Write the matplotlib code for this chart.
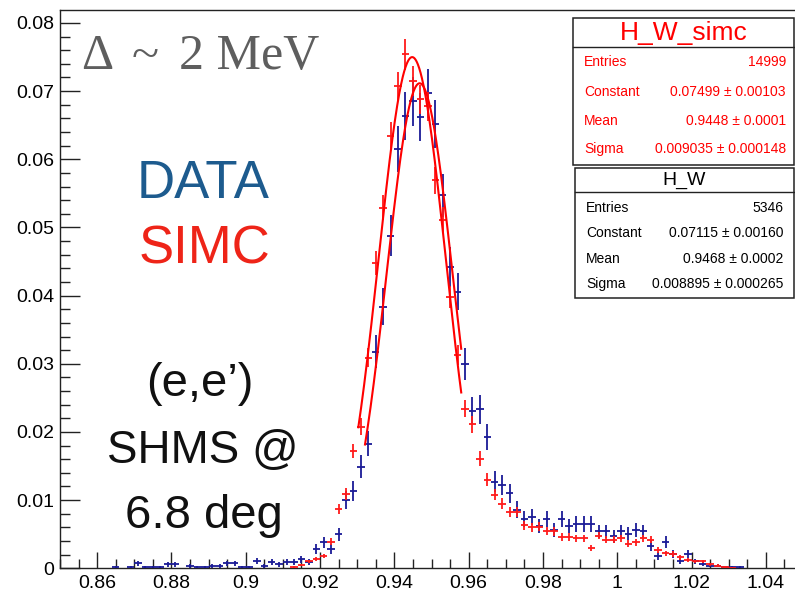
import numpy as np
import matplotlib
matplotlib.use("Agg")
import matplotlib.pyplot as plt
from matplotlib.patches import Rectangle
from matplotlib.ticker import MultipleLocator, FuncFormatter

# W histograms (bin width 0.002 GeV, centres from 0.851)
bin_lo, bin_hi, bin_w = 0.85, 1.05, 0.002

data_w = [0.865, 0.869, 0.871, 0.873, 0.875, 0.877, 0.879, 0.881, 0.885, 0.887,
          0.889, 0.891, 0.893, 0.895, 0.897, 0.899, 0.901, 0.903, 0.905, 0.907,
          0.909, 0.911, 0.913, 0.915, 0.917, 0.919, 0.921, 0.923, 0.925, 0.927,
          0.929, 0.931, 0.933, 0.935, 0.937, 0.939, 0.941, 0.943, 0.945, 0.947,
          0.949, 0.951, 0.953, 0.955, 0.957, 0.959, 0.961, 0.963, 0.965, 0.967,
          0.969, 0.971, 0.973, 0.975, 0.977, 0.979, 0.981, 0.983, 0.985, 0.987,
          0.989, 0.991, 0.993, 0.995, 0.997, 0.999, 1.001, 1.003, 1.005, 1.007,
          1.009, 1.011, 1.013, 1.015, 1.017, 1.019, 1.021, 1.023, 1.025, 1.027,
          1.029, 1.031, 1.033]
data_y = [0.00019, 0.00019, 0.00075, 0.00019, 0.00019, 0.00019, 0.00056, 0.00056, 0.00037, 0.00019,
          0.00019, 0.00037, 0.00037, 0.00075, 0.00075, 0.00019, 0.00019, 0.00112, 0.00037, 0.00094,
          0.00056, 0.00094, 0.00094, 0.00131, 0.00094, 0.0028, 0.0038, 0.0028, 0.0050, 0.0100,
          0.0114, 0.0149, 0.0183, 0.0318, 0.0384, 0.0488, 0.0615, 0.0663, 0.0685, 0.0662,
          0.0697, 0.0652, 0.0547, 0.0442, 0.0406, 0.0300, 0.0231, 0.0233, 0.0193, 0.0127,
          0.0122, 0.0110, 0.0086, 0.0072, 0.0075, 0.0062, 0.0073, 0.0056, 0.0072, 0.0062,
          0.0065, 0.0065, 0.0065, 0.0054, 0.0054, 0.0047, 0.0054, 0.0051, 0.0056, 0.0054,
          0.0033, 0.0018, 0.0039, 0.0021, 0.0011, 0.0021, 0.0010, 0.0007, 0.0004, 0.0004,
          0.0002, 0.0002, 0.0002]

simc_w = [0.913, 0.915, 0.917, 0.919, 0.921, 0.923, 0.925, 0.927, 0.929, 0.931,
          0.933, 0.935, 0.937, 0.939, 0.941, 0.943, 0.945, 0.947, 0.949, 0.951,
          0.953, 0.955, 0.957, 0.959, 0.961, 0.963, 0.965, 0.967, 0.969, 0.971,
          0.973, 0.975, 0.977, 0.979, 0.981, 0.983, 0.985, 0.987, 0.989, 0.991,
          0.993, 0.995, 0.997, 0.999, 1.001, 1.003, 1.005, 1.007, 1.009, 1.011,
          1.013, 1.015, 1.017, 1.019, 1.021, 1.023, 1.025, 1.027, 1.029, 1.031]
simc_y = [0.0002, 0.0005, 0.0010, 0.00135, 0.0018, 0.0039, 0.0087, 0.0109, 0.0172, 0.0208,
          0.0309, 0.0448, 0.0529, 0.0634, 0.0707, 0.0754, 0.0715, 0.0688, 0.0678, 0.0569,
          0.0511, 0.0398, 0.0313, 0.0234, 0.0211, 0.0161, 0.0130, 0.0108, 0.0095, 0.0083,
          0.0082, 0.0063, 0.0060, 0.0061, 0.0055, 0.0054, 0.0046, 0.0046, 0.0044, 0.0044,
          0.0030, 0.0048, 0.0042, 0.0042, 0.0044, 0.0036, 0.0038, 0.0044, 0.0042, 0.0027,
          0.0022, 0.0021, 0.0016, 0.0012, 0.0010, 0.0010, 0.0006, 0.0004, 0.0002, 0.0001]

# normalisation (entries) used for the statistical error bars
data_entries = 5346
simc_entries = 14999

# Gaussian fit results
simc_fit = dict(const=0.07499, mean=0.9448, sigma=0.009035, lo=0.9303, hi=0.958)
data_fit = dict(const=0.07115, mean=0.9468, sigma=0.008895, lo=0.9321, hi=0.958)

stats_simc = [("Entries", "14999"),
              ("Constant", "0.07499 \u00b1 0.00103"),
              ("Mean", "0.9448 \u00b1 0.0001"),
              ("Sigma", "0.009035 \u00b1 0.000148")]
stats_data = [("Entries", "5346"),
              ("Constant", "0.07115 \u00b1 0.00160"),
              ("Mean", "0.9468 \u00b1 0.0002"),
              ("Sigma", "0.008895 \u00b1 0.000265")]

W, H = 795, 597
SANS = ["Liberation Sans", "DejaVu Sans"]
plt.rcParams["font.family"] = SANS

fig = plt.figure(figsize=(W / 100, H / 100), dpi=100)
ax_l, ax_r, ax_t, ax_b = 60, 803, 10, 568.3
ax = fig.add_axes([ax_l / W, (H - ax_b) / H, (ax_r - ax_l) / W, (ax_b - ax_t) / H])
ax.set_xlim(bin_lo, bin_hi)
ax.set_ylim(0, 0.0819)

BLUE = "#1a1a96"
RED = "#ff1a1a"


def draw_hist(w, y, n, color):
    w = np.asarray(w)
    y = np.asarray(y)
    err = np.sqrt(y / n)
    ax.errorbar(w, y, yerr=err, xerr=bin_w / 2, fmt="none", ecolor=color,
                elinewidth=1.3, capsize=0, zorder=3)


def draw_fit(f):
    xs = np.linspace(f["lo"], f["hi"], 300)
    ys = f["const"] * np.exp(-0.5 * ((xs - f["mean"]) / f["sigma"]) ** 2)
    ax.plot(xs, ys, color="#ff0000", lw=1.5, zorder=4)


draw_hist(data_w, data_y, data_entries, BLUE)
draw_hist(simc_w, simc_y, simc_entries, RED)
draw_fit(simc_fit)
draw_fit(data_fit)

# axes styling
for s in ("left", "bottom", "top"):
    ax.spines[s].set_color("#222222")
    ax.spines[s].set_linewidth(1.0)
ax.spines["right"].set_visible(False)
ax.xaxis.set_major_locator(MultipleLocator(0.02))
ax.xaxis.set_minor_locator(MultipleLocator(0.005))
ax.yaxis.set_major_locator(MultipleLocator(0.01))
ax.yaxis.set_minor_locator(MultipleLocator(0.002))


def fmt(v, pos):
    s = f"{v:.2f}".rstrip("0").rstrip(".")
    return s


ax.xaxis.set_major_formatter(FuncFormatter(fmt))
ax.yaxis.set_major_formatter(FuncFormatter(fmt))
ax.tick_params(axis="x", which="major", direction="in", length=11.5, width=1.0,
               labelsize=14, pad=4.5, color="#222222")
ax.tick_params(axis="x", which="minor", direction="in", length=6.5, width=1.0,
               color="#222222")
ax.tick_params(axis="y", which="major", direction="in", length=14.5, width=1.0,
               labelsize=14, pad=4, color="#222222")
ax.tick_params(axis="y", which="minor", direction="in", length=7.5, width=1.0,
               color="#222222")


def fx(x):
    return x / W


def fy(y):
    return 1 - y / H


# annotations on the plot area
SERIF = ["Liberation Serif", "DejaVu Serif"]
fig.text(fx(81), fy(57), "\u0394", fontsize=36, color="#5e5e5e",
         family=SERIF, va="center", ha="left")
fig.text(fx(132), fy(57), "~", fontsize=36, color="#5e5e5e",
         family=SERIF, va="center", ha="left")
fig.text(fx(179), fy(57), "2 MeV", fontsize=36, color="#5e5e5e",
         family=SERIF, va="center", ha="left")
fig.text(fx(203), fy(184), "DATA", fontsize=38, color="#1d5b8e",
         ha="center", va="center")
fig.text(fx(204), fy(250), "SIMC", fontsize=38, color="#ee2418",
         ha="center", va="center")
fig.text(fx(200), fy(384), "(e,e\u2019)", fontsize=34, color="#111111",
         ha="center", va="center")
fig.text(fx(203), fy(451), "SHMS @", fontsize=33, color="#111111",
         ha="center", va="center")
fig.text(fx(204), fy(516), "6.8 deg", fontsize=34, color="#111111",
         ha="center", va="center")


# stats boxes
def stats_box(top, sep, bottom, left, right, title, rows, color, title_size,
              row_ys, text_l, text_r):
    fig.add_artist(Rectangle((fx(left), fy(bottom)), fx(right) - fx(left),
                             fy(top) - fy(bottom), transform=fig.transFigure,
                             facecolor="white", edgecolor="#222222", lw=1.1,
                             zorder=10))
    fig.add_artist(plt.Line2D([fx(left), fx(right)], [fy(sep), fy(sep)],
                              transform=fig.transFigure, color="#222222",
                              lw=1.0, zorder=11))
    fig.text(fx((left + right) / 2), fy((top + sep) / 2), title, color=color,
             fontsize=title_size, ha="center", va="center", zorder=12)
    for (k, v), yy in zip(rows, row_ys):
        fig.text(fx(text_l), fy(yy), k, color=color, fontsize=10,
                 ha="left", va="center", zorder=12)
        fig.text(fx(text_r), fy(yy), v, color=color, fontsize=10,
                 ha="right", va="center", zorder=12)


stats_box(18.3, 47.3, 165, 573, 794, "H_W_simc", stats_simc, "#ff0000", 19,
          [62.3, 92.3, 121, 149.3], 584, 786)
stats_box(168.3, 191.7, 298.3, 575, 794, "H_W", stats_data, "black", 14,
          [207.7, 233.3, 259.3, 284.3], 586, 783.5)

fig.savefig("out.png", dpi=100)
